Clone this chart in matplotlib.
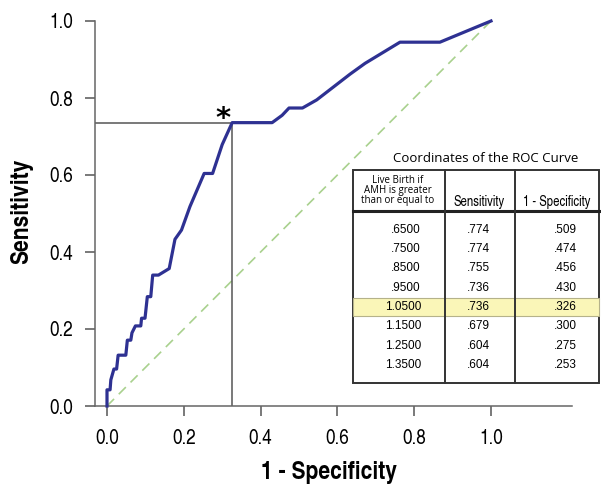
import matplotlib.pyplot as plt
from matplotlib.patches import Rectangle

# ROC curve points (1 - specificity, sensitivity)
fpr = [0, 0, 0.008, 0.010, 0.018, 0.025, 0.029, 0.049, 0.053, 0.062, 0.065, 0.074,
       0.088, 0.090, 0.099, 0.105, 0.114, 0.119, 0.134, 0.162, 0.177, 0.194, 0.216,
       0.253, 0.275, 0.300, 0.326, 0.430, 0.456, 0.474, 0.509, 0.546, 0.633, 0.672,
       0.763, 0.867, 1.0]
tpr = [0, 0.042, 0.042, 0.068, 0.096, 0.096, 0.132, 0.132, 0.171, 0.171, 0.190, 0.208,
       0.208, 0.228, 0.228, 0.284, 0.284, 0.340, 0.340, 0.357, 0.433, 0.457, 0.518,
       0.604, 0.604, 0.679, 0.736, 0.736, 0.755, 0.774, 0.774, 0.795, 0.862, 0.890,
       0.945, 0.945, 1.0]

# optimal cut-off marked on the curve
best_fpr = 0.326
best_tpr = 0.736

# inset table
cutoffs = ['.6500', '.7500', '.8500', '.9500', '1.0500', '1.1500', '1.2500', '1.3500']
sens = ['.774', '.774', '.755', '.736', '.736', '.679', '.604', '.604']
spec = ['.509', '.474', '.456', '.430', '.326', '.300', '.275', '.253']
best_row = 4

ticks = [0.0, 0.2, 0.4, 0.6, 0.8, 1.0]

W, H = 601, 488
cond = ['TeX Gyre Heros Cn', 'DejaVu Sans']
helv = ['Liberation Sans', 'DejaVu Sans']
myriad = ['Open Sans', 'DejaVu Sans']

fig = plt.figure(figsize=(W / 100, H / 100), dpi=100)
ax = fig.add_axes([94.5 / W, 1 - 406 / H, (572 - 94.5) / W, (406 - 21) / H])

x0 = (94.5 - 107) / 384
ax.set_xlim(x0, (572 - 107) / 384)
ax.set_ylim(0, 1.0)

ax.plot([0, 1], [0, 1], color='#a9d18e', lw=1.2, dashes=(6, 4), zorder=2)
ax.plot([x0, best_fpr], [best_tpr, best_tpr], color='#555555', lw=1.1, zorder=2)
ax.plot([best_fpr, best_fpr], [0, best_tpr], color='#555555', lw=1.1, zorder=2)
ax.plot(fpr, tpr, color='#2e3192', lw=2.3, clip_on=False, zorder=3)
ax.text(best_fpr - 0.024, best_tpr + 0.009, '*', fontsize=21, fontweight='bold',
        ha='center', va='center', family='DejaVu Sans')

for s in ['top', 'right']:
    ax.spines[s].set_visible(False)
for s in ['left', 'bottom']:
    ax.spines[s].set_color('#666666')
    ax.spines[s].set_linewidth(1.1)

ax.set_xticks(ticks)
ax.set_yticks(ticks)
ax.set_xticklabels(['%.1f' % t for t in ticks], family=cond)
ax.set_yticklabels(['%.1f' % t for t in ticks], family=cond)
ax.tick_params(direction='out', length=7.5, width=1.1, color='#555555', labelsize=15)
ax.tick_params(axis='x', pad=9)
ax.tick_params(axis='y', pad=8)

ax.set_xlabel('1 - Specificity', family=cond, fontweight='bold', fontsize=18.5, va='center')
ax.set_ylabel('Sensitivity', family=cond, fontweight='bold', fontsize=18.5, va='center')
ax.xaxis.set_label_coords((329 - 94.5) / 477.5, (406 - 473) / 385)
ax.yaxis.set_label_coords((22 - 94.5) / 477.5, (406 - 211) / 385)

# table drawn in pixel coordinates on top
tax = fig.add_axes([0, 0, 1, 1], zorder=5)
tax.set_xlim(0, W)
tax.set_ylim(H, 0)
tax.axis('off')

left, right, top, bottom = 352.5, 599, 169.5, 383
head = 211
cols = [445, 515]
row0, dy = 229.8, 19.3

tax.add_patch(Rectangle((left, top), right - left, bottom - top, facecolor='white',
                        edgecolor='#333333', lw=1.4))
hy = row0 + best_row * dy
tax.add_patch(Rectangle((left, hy - 9), right - left, 18, facecolor='#faf6b8',
                        edgecolor='#b5b28a', lw=0.8))
tax.plot([left, right], [head, head], color='#222222', lw=2.2)
for c in cols:
    tax.plot([c, c], [top, bottom], color='#333333', lw=1.4)

tax.text(486, 158, 'Coordinates of the ROC Curve', family=myriad, fontsize=9.5,
         ha='center', va='center')
tax.text(398, 190.5, 'Live Birth if\nAMH is greater\nthan or equal to', family=myriad,
         fontsize=7, ha='center', va='center', linespacing=0.9)
tax.text(479, 202, 'Sensitivity', family=cond, fontsize=10, ha='center', va='center')
tax.text(557, 202, '1 - Specificity', family=cond, fontsize=10, ha='center', va='center')

for i in range(len(cutoffs)):
    y = row0 + i * dy
    tax.text(421, y, cutoffs[i], family=helv, fontsize=8.5, ha='right', va='center')
    tax.text(490, y, sens[i], family=helv, fontsize=8.5, ha='right', va='center')
    tax.text(577, y, spec[i], family=helv, fontsize=8.5, ha='right', va='center')

fig.savefig('out.png', dpi=100)
